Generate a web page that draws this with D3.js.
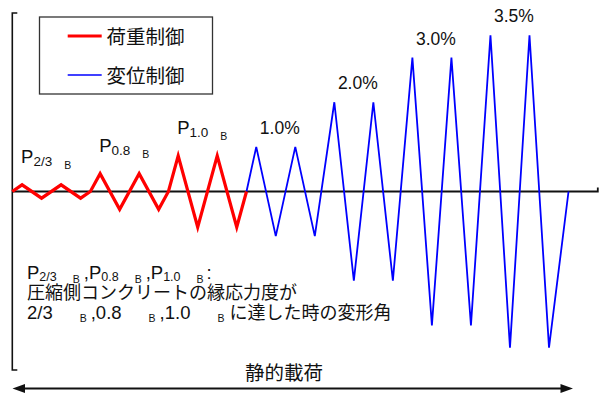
<!DOCTYPE html>
<html>
<head>
<meta charset="utf-8">
<script src="https://cdn.jsdelivr.net/npm/d3@7"></script>
<style>
    body { margin: 0; background: #fff; }
    svg { display: block; }
    text { font-family: "Liberation Sans", "Noto Sans CJK JP", sans-serif; fill: #111; }
</style>
</head>
<body>
<div id="chart"></div>
<script>
// 荷重制御: load step and drift (%)
const loadSteps = [0, 1, 3, 5, 7, 8, 9, 11, 13, 15, 16, 17, 19, 21, 23, 24];
const loadDrift = [0, 0.15, -0.15, 0.15, -0.15, 0, 0.4, -0.4, 0.4, -0.4, 0, 0.8, -0.8, 0.8, -0.8, 0];

// 変位制御
const dispSteps = [24, 25, 27, 29, 31, 33, 35, 37, 39, 41, 43, 45, 47, 49, 51, 53, 55, 57];
const dispDrift = [0, 1, -1, 1, -1, 2, -2, 2, -2, 3, -3, 3, -3, 3.5, -3.5, 3.5, -3.5, 0];

const loadLevels = [0.15, 0.4, 0.8];
const loadSubs = ["2/3", "0.8", "1.0"];
const dispLevels = [1.0, 2.0, 3.0, 3.5];
const dispLabels = ["1.0%", "2.0%", "3.0%", "3.5%"];
const legendNames = ["荷重制御", "変位制御"];

function drawChart(containerId) {
    const width = 599,
        height = 395;

    d3.select(`#${containerId}`).selectAll("*").remove();

    const svg = d3.select(`#${containerId}`)
        .append("svg")
        .attr("width", width)
        .attr("height", height);

    const x = d3.scaleLinear().domain([0, 60]).range([12.3, 597.8]);
    const y = d3.scaleLinear().domain([-4, 4]).range([370, 13]);

    // axes
    svg.append("path")
        .attr("d", `M${x(0) + 5},${y(4)}H${x(0)}V${y(-4)}H${x(0) + 5}`)
        .attr("fill", "none")
        .attr("stroke", "#111")
        .attr("stroke-width", 1.6);

    svg.append("path")
        .attr("d", `M${x(0)},${y(0)}H${x(60)}V${y(0) - 4}`)
        .attr("fill", "none")
        .attr("stroke", "#111")
        .attr("stroke-width", 1.8);

    const line = d3.line()
        .x(d => x(d[0]))
        .y(d => y(d[1]));

    svg.append("path")
        .attr("d", line(d3.zip(dispSteps, dispDrift)))
        .attr("fill", "none")
        .attr("stroke", "#0000ff")
        .attr("stroke-width", 1.8);

    svg.append("path")
        .attr("d", line(d3.zip(loadSteps, loadDrift)))
        .attr("fill", "none")
        .attr("stroke", "#ff0000")
        .attr("stroke-width", 3.2);

    // P labels over the first peak of each load level
    loadLevels.forEach((lv, i) => {
        const t0 = loadSteps[loadDrift.indexOf(lv)];
        const t = svg.append("text")
            .attr("x", x(t0) - 1)
            .attr("y", y(lv) - 22)
            .style("font-size", "18.5px");
        t.append("tspan").text("P");
        t.append("tspan").attr("dy", 3.5).style("font-size", "13.5px").text(loadSubs[i]);
        t.append("tspan").attr("dx", 12).attr("dy", 2.5).style("font-size", "10.5px").text("B");
    });

    // drift labels between the two peaks of each level
    dispLevels.forEach((lv, i) => {
        const idx = dispDrift.indexOf(lv);
        const mid = (dispSteps[idx] + dispSteps[idx + 2]) / 2;
        svg.append("text")
            .attr("x", x(mid) + 4)
            .attr("y", y(lv) - 13)
            .attr("text-anchor", "middle")
            .style("font-size", "17.5px")
            .text(dispLabels[i]);
    });

    // legend
    const colors = ["#ff0000", "#0000ff"];
    const widths = [3, 1.5];
    svg.append("rect")
        .attr("x", 39.5).attr("y", 17)
        .attr("width", 173).attr("height", 77)
        .attr("fill", "#fff")
        .attr("stroke", "#333")
        .attr("stroke-width", 1.3);
    legendNames.forEach((n, i) => {
        const ly = 36 + i * 39;
        svg.append("line")
            .attr("x1", 67.7).attr("x2", 101.7)
            .attr("y1", ly).attr("y2", ly)
            .attr("stroke", colors[i])
            .attr("stroke-width", widths[i]);
        svg.append("text")
            .attr("x", 106.5).attr("y", ly + 7.5)
            .style("font-size", "19.5px")
            .text(n);
    });

    // note
    const l1 = svg.append("text").attr("x", 27).attr("y", 279).style("font-size", "18.5px");
    loadSubs.forEach((s, i) => {
        if (i) l1.append("tspan").attr("dx", 4).attr("dy", -3.5).text(",P");
        else l1.append("tspan").text("P");
        l1.append("tspan").attr("dy", 2).style("font-size", "12.5px").text(s);
        l1.append("tspan").attr("dx", 16).attr("dy", 1.5).style("font-size", "10.5px").text("B");
    });
    l1.append("tspan").attr("dy", -3.5).attr("dx", 3).text(":");

    svg.append("text").attr("x", 27).attr("y", 299)
        .style("font-size", "18px")
        .text("圧縮側コンクリートの縁応力度が");

    const l3 = svg.append("text").attr("x", 27).attr("y", 319).style("font-size", "18.5px");
    loadSubs.forEach((s, i) => {
        if (i) l3.append("tspan").attr("dx", 4).attr("dy", -3).text("," + s);
        else l3.append("tspan").text(s);
        l3.append("tspan").attr("dx", 27).attr("dy", 3).style("font-size", "10.5px").text("B");
    });
    l3.append("tspan").attr("dx", 5).attr("dy", -3).style("font-size", "18px").text("に達した時の変形角");

    // static loading arrow
    svg.append("text")
        .attr("x", 284).attr("y", 380)
        .attr("text-anchor", "middle")
        .style("font-size", "19.5px")
        .text("静的載荷");

    const ay = 388.5;
    svg.append("line")
        .attr("x1", 20).attr("x2", 565)
        .attr("y1", ay).attr("y2", ay)
        .attr("stroke", "#111")
        .attr("stroke-width", 2);
    svg.append("path")
        .attr("d", `M12.5,${ay}L25,${ay - 4.5}L25,${ay + 4.5}Z M573,${ay}L560.5,${ay - 4.5}L560.5,${ay + 4.5}Z`)
        .attr("fill", "#111");
}

drawChart("chart");
</script>
</body>
</html>
